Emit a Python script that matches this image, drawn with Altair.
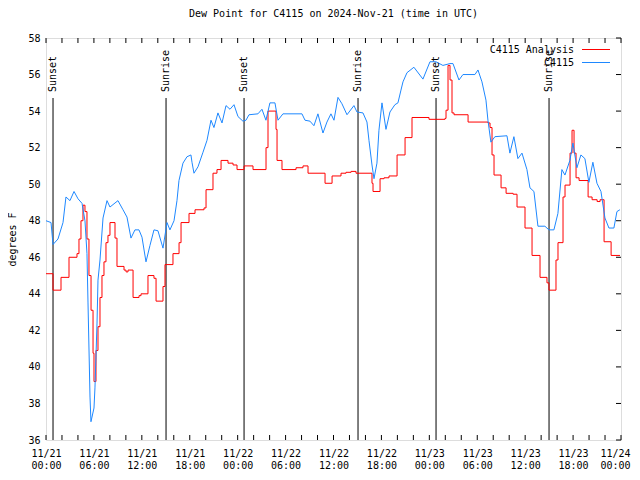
import altair as alt
import pandas as pd

# Hours since 2024-11-21 00:00 UTC and dew point (deg F)
obs_hours = [0.0, 0.63, 0.88, 1.50, 2.13, 2.50, 3.00, 3.51, 4.01, 4.51, 4.88, 5.13, 5.26, 5.51, 5.63,
             6.01, 6.13, 6.39, 6.51, 6.76, 7.14, 7.64, 8.01, 9.01, 9.64, 10.14, 10.64, 11.14, 11.64,
             12.02, 12.52, 13.02, 13.52, 14.02, 14.65, 15.15, 15.52, 16.03, 16.40, 16.65, 17.15,
             17.65, 18.15, 18.28, 18.53, 19.03, 19.66, 20.16, 20.66, 21.03, 21.53, 22.04, 22.54,
             23.04, 23.54, 24.04, 24.66, 25.04, 25.42, 26.54, 27.04, 27.54, 28.04, 28.67, 29.05,
             29.67, 32.05, 32.43, 33.05, 33.55, 34.05, 34.68, 35.18, 35.68, 36.06, 36.56, 37.06,
             37.69, 38.56, 38.94, 39.69, 40.19, 40.44, 40.82, 41.07, 41.44, 41.69, 42.07, 42.57,
             43.07, 43.69, 44.07, 44.45, 44.70, 45.20, 46.07, 47.20, 48.08, 48.83, 49.70, 50.58,
             50.96, 51.71, 52.21, 53.71, 54.09, 54.59, 55.09, 55.34, 55.71, 56.21, 57.72, 58.09,
             58.59, 59.09, 59.60, 60.22, 60.60, 61.10, 61.60, 62.47, 62.97, 63.60, 64.10, 64.60,
             64.98, 65.60, 65.98, 66.48, 66.98, 67.48, 67.98, 68.48, 68.99, 69.49, 69.99, 70.49,
             71.11, 71.49, 71.86]
obs_values = [48.0, 47.9, 46.7, 47.0, 47.9, 49.3, 49.1, 49.6, 49.2, 48.95, 48.0, 46.2, 43.5, 38.35, 37.0,
              37.75, 38.85, 42.4, 44.75, 45.85, 48.15, 49.1, 48.75, 49.1, 48.6, 48.2, 47.05, 47.5, 47.5,
              47.1, 45.75, 46.65, 47.5, 47.45, 46.5, 47.9, 47.5, 48.0, 49.1, 50.2, 51.15,
              51.5, 51.6, 51.2, 50.6, 50.95, 51.75, 52.4, 53.5, 53.1, 53.9, 53.35, 54.3,
              54.1, 54.35, 53.7, 53.45, 53.5, 53.8, 53.85, 54.1, 53.5, 54.45, 54.45, 53.5,
              53.85, 53.85, 53.5, 53.45, 53.2, 53.85, 52.8, 53.4, 53.85, 53.5, 54.75, 54.4,
              53.8, 54.3, 53.95, 53.9, 53.4, 52.4, 51.05, 50.3, 51.15, 52.95, 54.45, 53.0,
              53.95, 54.35, 54.45, 55.15, 55.6, 56.1, 56.4, 55.75, 56.7, 56.7, 56.5, 56.6,
              56.6, 55.7, 56.0, 56.0, 56.25, 55.6, 54.6, 53.5, 52.3, 52.6, 52.65, 51.7,
              52.6, 51.4, 51.7, 50.8, 49.8, 49.6, 47.7, 47.7, 47.5, 47.5, 48.4, 50.8,
              50.5, 51.3, 52.25, 50.9, 51.6, 51.4, 50.1, 51.2, 50.05, 49.6, 48.15, 47.6,
              47.6, 48.5, 48.6]

ana_hours = [0.0, 0.88, 1.88, 2.88, 3.88, 4.13, 4.38, 4.63, 4.88, 5.13, 5.38, 5.64, 5.89, 6.01, 6.26,
             6.51, 6.76, 7.01, 7.26, 7.51, 7.76, 8.01, 8.64, 8.89, 9.77, 10.02, 10.27, 10.90, 11.65,
             11.90, 12.77, 13.52, 13.78, 14.65, 14.90, 15.03, 15.90, 16.66, 16.91, 17.91, 18.66,
             19.79, 20.04, 20.91, 21.41, 21.92, 22.79, 23.42, 23.92, 24.80, 25.92, 27.55, 27.80,
             28.80, 28.93, 29.55, 31.31, 32.18, 32.81, 34.94, 35.82, 36.94, 37.57, 38.20, 38.82,
             40.82, 40.95, 41.83, 42.33, 42.95, 43.96, 44.96, 45.83, 47.96, 49.96, 50.09, 50.34,
             50.59, 50.84, 51.09, 52.85, 55.35, 55.60, 55.85, 56.10, 56.98, 57.61, 58.49, 58.98,
             59.98, 60.86, 61.86, 62.73, 62.98, 63.86, 64.11, 64.74, 64.99, 65.62, 65.87, 66.12,
             66.37, 66.75, 67.88, 68.38, 69.01, 69.38, 69.88, 70.76, 71.88]
ana_values = [45.1, 44.2, 44.9, 46.0, 46.2, 47.0, 48.0, 48.85, 48.5, 47.0, 45.0, 43.1, 40.75, 39.2, 40.9,
              42.2, 43.8, 45.0, 45.75, 46.8, 47.2, 47.9, 47.05, 45.5, 45.3, 45.2, 45.3, 43.8, 43.9,
              44.0, 45.0, 44.85, 43.6, 44.4, 45.6, 45.6, 46.2, 46.8, 47.9, 48.4, 48.6,
              48.7, 49.7, 50.6, 50.8, 51.3, 51.15, 51.05, 50.8, 51.0, 50.8, 52.0, 54.0,
              53.0, 51.3, 50.8, 50.9, 51.0, 50.6, 50.05, 50.45, 50.6, 50.65, 50.7, 50.6,
              50.05, 49.6, 50.3, 50.35, 50.45, 51.6, 52.55, 53.65, 53.55, 53.6, 54.05, 56.5,
              55.7, 53.9, 53.8, 53.4, 53.35, 53.1, 51.6, 50.5, 49.8, 49.5, 49.45, 48.75,
              47.6, 46.1, 44.9, 44.6, 44.2, 45.85, 46.8, 49.3, 49.95, 51.7, 52.95, 51.7,
              50.35, 50.2, 49.3, 49.15, 49.05, 49.15, 46.85, 46.1, 46.1]

sun_hours = [0.88, 15.03, 24.80, 39.07, 48.84, 62.99]
sun_labels = ["Sunset", "Sunrise", "Sunset", "Sunrise", "Sunset", "Sunrise"]

series_names = ["C4115 Analysis", "C4115"]

x_ticks = list(range(0, 73, 6))
minor_ticks = list(range(0, 73, 2))
y_ticks = list(range(36, 59, 2))

W, H = 575, 402
FONT = "DejaVu Sans Mono"
RED = "#ff0000"
BLUE = "#1e88ff"

obs = pd.DataFrame({"h": obs_hours, "v": obs_values})
ana = pd.DataFrame({"h": ana_hours, "v": ana_values})
sun = pd.DataFrame({"h": sun_hours, "label": sun_labels})
mt = pd.DataFrame({"h": minor_ticks})
yt = pd.DataFrame({"v": y_ticks})

xscale = alt.Scale(domain=[0, 72], nice=False, zero=False)
yscale = alt.Scale(domain=[36, 58], nice=False, zero=False)

label_expr = ("['11/' + (21 + floor(datum.value / 24)), "
              "(datum.value % 24 < 10 ? '0' : '') + (datum.value % 24) + ':00']")

xaxis = alt.Axis(values=x_ticks, labelExpr=label_expr, title=None, grid=False, ticks=False,
                 domain=False, labelFont=FONT, labelFontSize=10, labelColor="black",
                 labelPadding=8, labelLineHeight=12, labelBaseline="top",
                 labelFlush=False, labelOverlap=False, labelBound=False,
                 labelOffset={"condition": {"test": "datum.value == 72", "value": -6}, "value": 0})
yaxis = alt.Axis(values=y_ticks, title="degrees F", grid=False, ticks=False, domain=False,
                 labelFont=FONT, labelFontSize=10, labelColor="black", labelPadding=6,
                 labelFlush=False, labelOverlap=False, labelBound=False,
                 titleFont=FONT, titleFontSize=10, titleFontWeight="normal", titleColor="black",
                 titlePadding=10)

X = alt.X("h:Q", scale=xscale, axis=xaxis)
Y = alt.Y("v:Q", scale=yscale, axis=yaxis)

line_ana = alt.Chart(ana).mark_line(color=RED, strokeWidth=1, interpolate="step-after").encode(x=X, y=Y)
line_obs = alt.Chart(obs).mark_line(color=BLUE, strokeWidth=1).encode(x=X, y=Y)

sun_rules = alt.Chart(sun).mark_rule(color="black", strokeWidth=1).encode(
    x=X, y=alt.value(60), y2=alt.value(H))
sun_text = alt.Chart(sun).mark_text(angle=270, align="left", baseline="middle", font=FONT,
                                    fontSize=10, color="black").encode(
    x=X, y=alt.value(54), text="label:N")

top_ticks = alt.Chart(mt).mark_rule(color="black").encode(x=X, y=alt.value(0), y2=alt.value(5))
bot_ticks = alt.Chart(mt).mark_rule(color="black").encode(x=X, y=alt.value(H - 5), y2=alt.value(H))
right_ticks = alt.Chart(yt).mark_rule(color="black").encode(y=Y, x=alt.value(W - 5), x2=alt.value(W))

legend_layers = []
for name, col, ypix in zip(series_names, [RED, BLUE], [11.5, 24.5]):
    d = pd.DataFrame({"name": [name]})
    legend_layers.append(alt.Chart(d).mark_text(align="right", baseline="middle", font=FONT,
                                                fontSize=10, color="black").encode(
        x=alt.value(528), y=alt.value(ypix), text="name:N"))
    legend_layers.append(alt.Chart(d).mark_rule(strokeWidth=1, color=col).encode(
        x=alt.value(536), x2=alt.value(564), y=alt.value(ypix)))

chart = alt.layer(
    sun_rules, line_ana, line_obs, sun_text, top_ticks, bot_ticks, right_ticks, *legend_layers
).properties(
    width=W, height=H,
    title=alt.TitleParams("Dew Point for C4115 on 2024-Nov-21 (time in UTC)", font=FONT,
                          fontSize=10, fontWeight="normal", color="black", offset=14),
    autosize=alt.AutoSizeParams(type="none"),
    padding={"left": 38, "top": 30, "right": 11, "bottom": 32},
).configure_view(stroke="black", strokeWidth=1).configure(background="white")

chart.save("out.html", embed_options={"renderer": "svg", "actions": False})
